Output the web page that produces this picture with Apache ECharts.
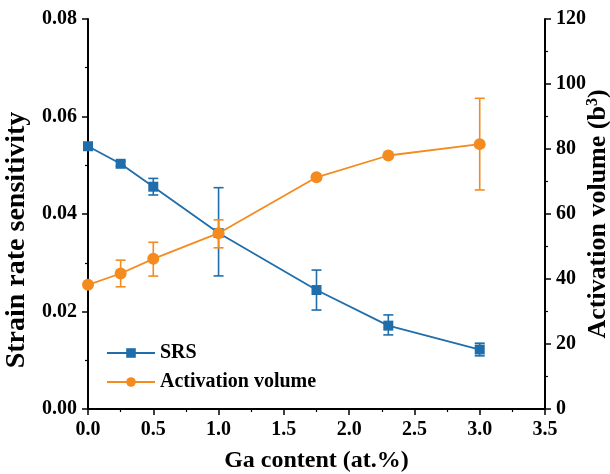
<!DOCTYPE html>
<html>
<head>
<meta charset="utf-8">
<script src="https://cdn.jsdelivr.net/npm/echarts@6/dist/echarts.min.js"></script>
<style>
  html, body { margin: 0; padding: 0; background: #fff; }
  #main { width: 610px; height: 474px; }
</style>
</head>
<body>
<div id="main"></div>
<script>
const gaContent = [0, 0.25, 0.5, 1.0, 1.75, 2.3, 3.0];
const srs = [0.0539, 0.0503, 0.0456, 0.0361, 0.0244, 0.0171, 0.0122];
const srsLow = [0.0534, 0.0498, 0.0439, 0.0273, 0.0203, 0.0152, 0.0109];
const srsHigh = [0.0544, 0.0508, 0.0473, 0.0454, 0.0285, 0.0193, 0.0135];
const actVol = [38.2, 41.7, 46.2, 54.1, 71.3, 78.0, 81.5];
const actLow = [38.2, 37.6, 40.9, 49.6, 71.3, 78.0, 67.4];
const actHigh = [38.2, 45.8, 51.3, 58.2, 71.3, 78.0, 95.6];

const blue = '#1f6eab';
const orange = '#f48b1f';
const font = 'Liberation Serif';

function errorData(low, high) {
  return gaContent.map((x, i) => [x, low[i], high[i]]);
}

function renderErrorBar(color) {
  return function (params, api) {
    const x = api.value(0);
    const lo = api.coord([x, api.value(1)]);
    const hi = api.coord([x, api.value(2)]);
    const w = 5;
    const style = { stroke: color, lineWidth: 1.6, fill: null };
    return {
      type: 'group',
      children: [
        { type: 'line', shape: { x1: lo[0], y1: lo[1], x2: hi[0], y2: hi[1] }, style: style },
        { type: 'line', shape: { x1: lo[0] - w, y1: lo[1], x2: lo[0] + w, y2: lo[1] }, style: style },
        { type: 'line', shape: { x1: hi[0] - w, y1: hi[1], x2: hi[0] + w, y2: hi[1] }, style: style }
      ]
    };
  };
}

const axisCommon = {
  axisLine: { show: true, lineStyle: { color: '#000', width: 2 } },
  axisTick: { show: true, inside: false, length: 6, lineStyle: { color: '#000', width: 1.5 } },
  minorTick: { show: true, splitNumber: 2, length: 3, lineStyle: { color: '#000', width: 1.2 } },
  splitLine: { show: false },
  axisLabel: { color: '#000', fontFamily: font, fontWeight: 'bold', fontSize: 20, margin: 11 },
  nameTextStyle: { color: '#000', fontFamily: font, fontWeight: 'bold', fontSize: 24 }
};

const chart = echarts.init(document.getElementById('main'));
chart.setOption({
  animation: false,
  grid: { left: 88, right: 65, top: 19, bottom: 65, containLabel: false, outerBoundsMode: 'none' },
  legend: {
    orient: 'vertical',
    left: 101,
    top: 338,
    itemWidth: 48,
    itemHeight: 12,
    itemGap: 9,
    textStyle: { color: '#000', fontFamily: font, fontWeight: 'bold', fontSize: 20 },
    data: ['SRS', 'Activation volume']
  },
  xAxis: Object.assign({}, axisCommon, {
    type: 'value',
    min: 0, max: 3.5, interval: 0.5,
    name: 'Ga content (at.%)',
    nameLocation: 'middle',
    nameGap: 40,
    axisLabel: Object.assign({}, axisCommon.axisLabel, { formatter: v => v.toFixed(1) })
  }),
  yAxis: [
    Object.assign({}, axisCommon, {
      type: 'value',
      min: 0, max: 0.08, interval: 0.02,
      name: 'Strain rate sensitivity',
      nameLocation: 'middle',
      nameRotate: 90,
      nameGap: 57,
      nameTextStyle: Object.assign({}, axisCommon.nameTextStyle, { fontSize: 28, padding: [0, 52, 0, 0] }),
      axisLabel: Object.assign({}, axisCommon.axisLabel, { formatter: v => v.toFixed(2) })
    }),
    Object.assign({}, axisCommon, {
      type: 'value',
      position: 'right',
      min: 0, max: 120, interval: 20,
      name: 'Activation volume (b{sup|3})',
      nameLocation: 'middle',
      nameRotate: 90,
      nameGap: 40,
      nameMoveOverlap: false,
      nameTextStyle: Object.assign({}, axisCommon.nameTextStyle, {
        fontSize: 26,
        rich: { sup: { fontFamily: font, fontWeight: 'bold', fontSize: 16, verticalAlign: 'top', padding: [0, 0, 10, 0], color: '#000' } }
      })
    })
  ],
  series: [
    {
      name: 'SRS',
      type: 'line',
      yAxisIndex: 0,
      data: gaContent.map((x, i) => [x, srs[i]]),
      symbol: 'rect',
      symbolSize: 10,
      itemStyle: { color: blue },
      lineStyle: { color: blue, width: 1.8 },
      z: 3
    },
    {
      name: 'Activation volume',
      type: 'line',
      yAxisIndex: 1,
      data: gaContent.map((x, i) => [x, actVol[i]]),
      symbol: 'circle',
      symbolSize: 12,
      itemStyle: { color: orange },
      lineStyle: { color: orange, width: 1.8 },
      z: 3
    },
    {
      type: 'custom',
      yAxisIndex: 0,
      data: errorData(srsLow, srsHigh),
      renderItem: renderErrorBar(blue),
      encode: { x: 0, y: [1, 2] },
      z: 2
    },
    {
      type: 'custom',
      yAxisIndex: 1,
      data: errorData(actLow, actHigh),
      renderItem: renderErrorBar(orange),
      encode: { x: 0, y: [1, 2] },
      z: 2
    }
  ]
});
</script>
</body>
</html>
